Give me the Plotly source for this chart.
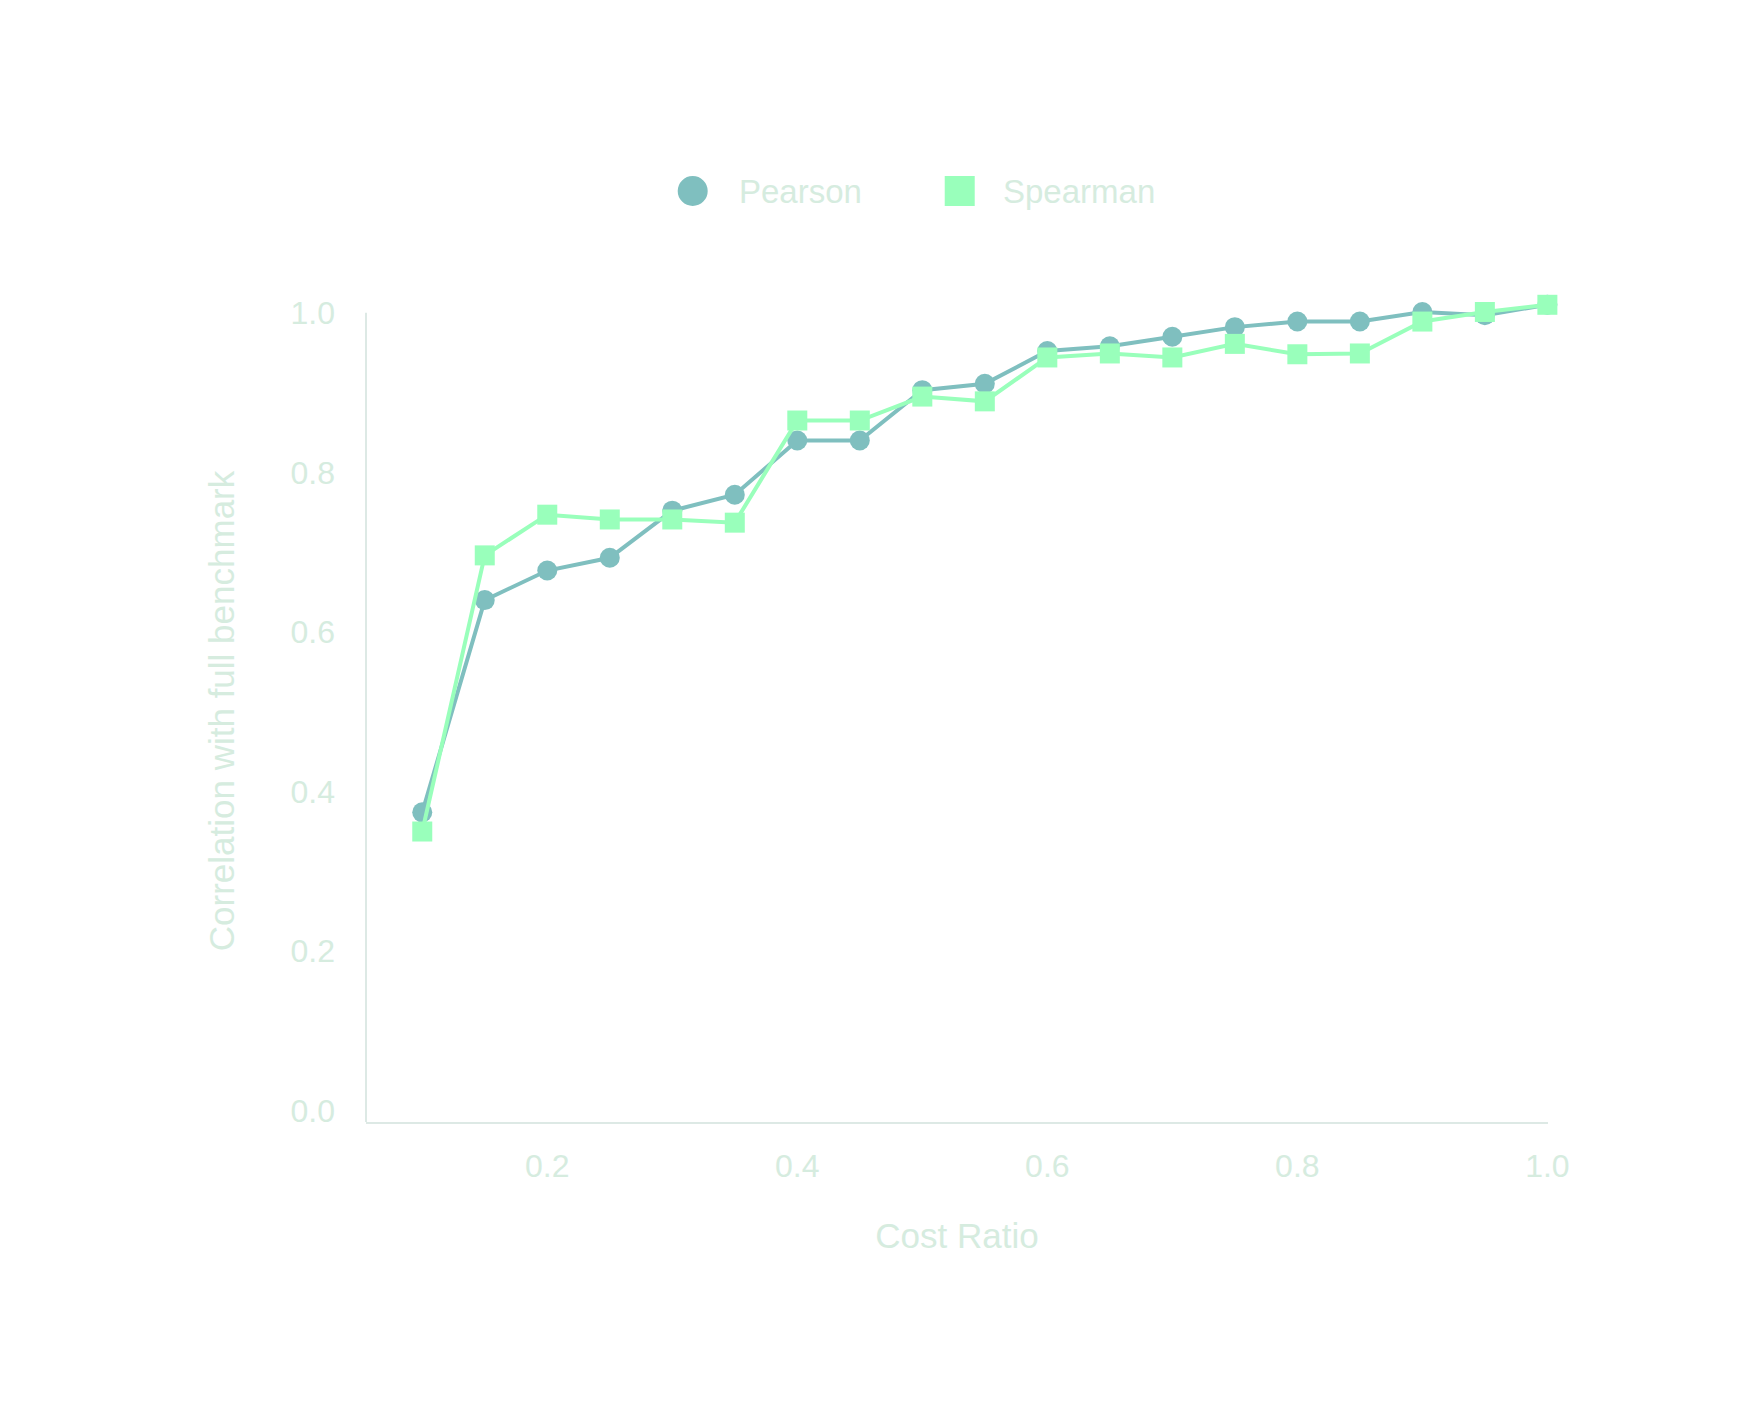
import plotly.graph_objects as go

cost_ratio = [0.10, 0.15, 0.20, 0.25, 0.30, 0.35, 0.40, 0.45, 0.50, 0.55,
              0.60, 0.65, 0.70, 0.75, 0.80, 0.85, 0.90, 0.95, 1.00]
pearson = [0.374, 0.640, 0.677, 0.693, 0.752, 0.772, 0.840, 0.840, 0.903, 0.911,
           0.952, 0.958, 0.970, 0.982, 0.989, 0.989, 1.001, 0.997, 1.010]
spearman = [0.350, 0.696, 0.747, 0.741, 0.741, 0.737, 0.865, 0.865, 0.895, 0.889,
            0.944, 0.949, 0.944, 0.961, 0.948, 0.949, 0.989, 1.001, 1.010]
series_names = ["Pearson", "Spearman"]
x_ticks = [0.2, 0.4, 0.6, 0.8, 1.0]
y_ticks = [0.0, 0.2, 0.4, 0.6, 0.8, 1.0]

C_P = "#7fbfbf"
C_S = "#99ffbb"
TXT = "#d6ecdf"
AX = "#dde9e5"
FONT = "Liberation Sans, Arial, sans-serif"

Y_LO, Y_HI = -0.014, 1.016
LEG_Y = 1.1326

fig = go.Figure()
fig.add_trace(go.Scatter(x=cost_ratio, y=pearson, name=series_names[0], mode="lines+markers",
                         line=dict(color=C_P, width=4),
                         marker=dict(symbol="circle", size=20, color=C_P),
                         cliponaxis=False, showlegend=False))
fig.add_trace(go.Scatter(x=cost_ratio, y=spearman, name=series_names[1], mode="lines+markers",
                         line=dict(color=C_S, width=4),
                         marker=dict(symbol="square", size=20, color=C_S),
                         cliponaxis=False, showlegend=False))

# y axis line stopping at the top tick
fig.add_shape(type="line", xref="paper", yref="y", x0=0, x1=0, y0=Y_LO, y1=1.0,
              line=dict(color=AX, width=2), layer="below")

# legend drawn as shapes + text
fig.add_shape(type="circle", xref="paper", yref="paper", xsizemode="pixel", ysizemode="pixel",
              xanchor=0.2764, yanchor=LEG_Y, x0=-15, x1=15, y0=-15, y1=15,
              fillcolor=C_P, line=dict(width=0))
fig.add_shape(type="rect", xref="paper", yref="paper", xsizemode="pixel", ysizemode="pixel",
              xanchor=0.5023, yanchor=LEG_Y, x0=-15, x1=15, y0=-15, y1=15,
              fillcolor=C_S, line=dict(width=0))
fig.add_annotation(x=0.3141, y=LEG_Y, xref="paper", yref="paper", text=series_names[0],
                   showarrow=False, xanchor="left", yanchor="middle",
                   font=dict(size=33, color=TXT, family=FONT))
fig.add_annotation(x=0.5374, y=LEG_Y, xref="paper", yref="paper", text=series_names[1],
                   showarrow=False, xanchor="left", yanchor="middle",
                   font=dict(size=33, color=TXT, family=FONT))

fig.update_layout(
    width=1763, height=1427,
    margin=dict(l=366, r=215, t=300, b=305),
    paper_bgcolor="white", plot_bgcolor="white",
    font=dict(family=FONT, color=TXT, size=30),
    xaxis=dict(range=[0.055, 1.0005], tickvals=x_ticks, ticktext=[f"{v:.1f}" for v in x_ticks],
               showgrid=False, zeroline=False, showline=True, linecolor=AX, linewidth=2,
               ticks="", ticklabelstandoff=15,
               tickfont=dict(size=32, color=TXT, family=FONT),
               title=dict(text="Cost Ratio", font=dict(size=35, color=TXT, family=FONT), standoff=40)),
    yaxis=dict(range=[Y_LO, Y_HI], tickvals=y_ticks, ticktext=[f"{v:.1f}" for v in y_ticks],
               showgrid=False, zeroline=False, showline=False,
               ticks="", ticklabelstandoff=30,
               tickfont=dict(size=32, color=TXT, family=FONT),
               title=dict(text="Correlation with full benchmark",
                          font=dict(size=35, color=TXT, family=FONT), standoff=45)),
)

fig.write_html("out.html")
